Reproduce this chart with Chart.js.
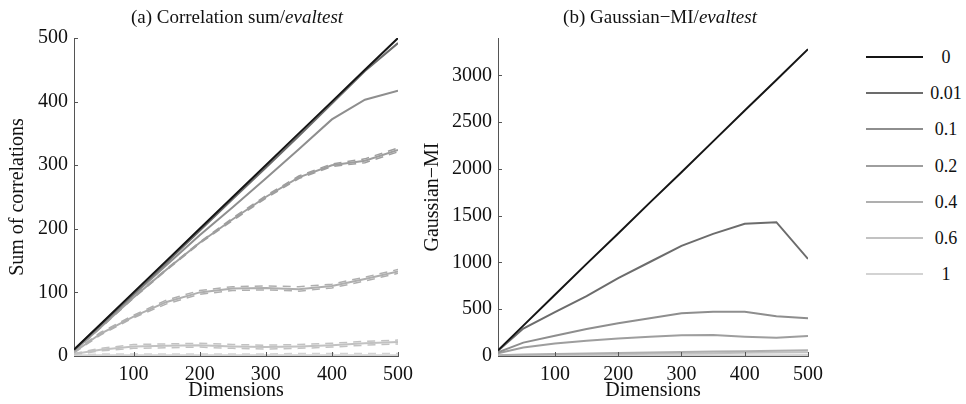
<!DOCTYPE html>
<html>
<head>
<meta charset="utf-8">
<script src="https://cdn.jsdelivr.net/npm/chart.js@4/dist/chart.umd.min.js"></script>
<style>
  html, body { margin: 0; padding: 0; background: #fff; }
  #wrap { position: relative; width: 966px; height: 404px; font-family: 'Liberation Serif', serif; color: #111; }
  #left-box { position: absolute; left: 0; top: 0; width: 420px; height: 404px; }
  #right-box { position: absolute; left: 420px; top: 0; width: 410px; height: 404px; }
  .plot-title { position: absolute; top: 6px; font-size: 19px; white-space: nowrap; transform: translateX(-50%); }
  .plot-title i { font-style: italic; }
  #legend { position: absolute; left: 866px; top: 0; }
  .legend-row { position: absolute; left: 0; width: 110px; height: 20px; }
  .legend-line { position: absolute; left: 0; top: 9px; width: 57px; height: 2px; }
  .legend-label { position: absolute; left: 62px; width: 36px; top: 0; text-align: center; font-size: 18px; line-height: 20px; }
</style>
</head>
<body>
<div id="wrap">
  <div id="left-box"><canvas id="chart-corr"></canvas></div>
  <div id="right-box"><canvas id="chart-mi"></canvas></div>
  <div class="plot-title" style="left:237px">(a) Correlation sum/<i>evaltest</i></div>
  <div class="plot-title" style="left:660px">(b) Gaussian&minus;MI/<i>evaltest</i></div>
  <div id="legend"></div>
</div>
<script>
// --- data -------------------------------------------------------------
const dims = [10, 50, 100, 150, 200, 250, 300, 350, 400, 450, 500];
const noiseLevels = ['0', '0.01', '0.1', '0.2', '0.4', '0.6', '1'];
const lineColors = ['#151515', '#6c6c6c', '#8e8e8e', '#9e9e9e', '#afafaf', '#c2c2c2', '#d3d3d3'];

const xTicks = [100, 200, 300, 400, 500];
const corrTicks = [0, 100, 200, 300, 400, 500];
const miTicks = [0, 500, 1000, 1500, 2000, 2500, 3000];

// (a) sum of correlations, mean per noise level
const corr0   = [10, 50, 100, 150, 200, 250, 300, 350, 400, 450, 500];
const corr001 = [10, 49, 98, 147, 197, 247, 296, 346, 397, 448, 492];
const corr01  = [9, 47, 96, 143, 190, 234, 279, 325, 372, 403, 417];
const corr02  = [8, 45, 92, 136, 178, 215, 250, 281, 300, 307, 324];
const corr04  = [6, 35, 62, 85, 100, 106, 107, 105, 110, 121, 133];
const corr06  = [3, 10, 15, 16, 17, 15, 14, 15, 17, 20, 22];
const corr1   = [1, 1, 1, 1, 1, 1, 1, 1, 1, 1, 1];

// (a) spread (upper / lower dashed) for the noisier levels
const corr02Hi = [9, 46, 93, 137, 179, 217, 252, 283, 302, 310, 327];
const corr02Lo = [7, 44, 91, 135, 177, 213, 248, 279, 298, 304, 321];
const corr04Hi = [7, 37, 64, 88, 103, 109, 110, 109, 113, 124, 136];
const corr04Lo = [5, 33, 60, 82, 97, 103, 104, 102, 107, 118, 130];
const corr06Hi = [4, 12, 18, 19, 20, 18, 17, 18, 20, 23, 25];
const corr06Lo = [2, 8, 12, 13, 14, 12, 11, 12, 14, 17, 19];
const corr1Hi  = [2, 3, 3, 3, 3, 3, 3, 4, 4, 4, 4];

// (b) Gaussian-MI per noise level
const mi0   = [60, 325, 655, 985, 1310, 1640, 1965, 2295, 2625, 2950, 3280];
const mi001 = [55, 293, 470, 640, 833, 1005, 1178, 1306, 1413, 1431, 1038];
const mi01  = [40, 143, 217, 289, 349, 403, 457, 474, 474, 425, 403];
const mi02  = [30, 90, 133, 164, 188, 207, 222, 225, 207, 196, 214];
const mi04  = [8, 15, 22, 28, 33, 38, 42, 47, 52, 57, 62];
const mi06  = [5, 9, 13, 17, 20, 24, 27, 30, 34, 37, 40];
const mi1   = [2, 3, 4, 5, 6, 6, 7, 8, 8, 9, 10];

const corrSeries = [corr0, corr001, corr01, corr02, corr04, corr06, corr1];
const corrBands = [
  { level: 3, data: corr02Hi }, { level: 3, data: corr02Lo },
  { level: 4, data: corr04Hi }, { level: 4, data: corr04Lo },
  { level: 5, data: corr06Hi }, { level: 5, data: corr06Lo },
  { level: 6, data: corr1Hi }
];
const miSeries = [mi0, mi001, mi01, mi02, mi04, mi06, mi1];

// --- helpers ----------------------------------------------------------
const AXIS_COLOR = '#555';
const serif = "'Liberation Serif', 'Times New Roman', serif";

function toPoints(values) {
  return dims.map((d, i) => ({ x: d, y: values[i] }));
}

function buildDatasets(series, bands) {
  const sets = series.map((vals, i) => ({
    label: noiseLevels[i],
    data: toPoints(vals),
    borderColor: lineColors[i],
    borderWidth: 2,
    pointRadius: 0,
    fill: false
  }));
  (bands || []).forEach(b => {
    sets.push({
      label: noiseLevels[b.level] + ' band',
      data: toPoints(b.data),
      borderColor: lineColors[b.level],
      borderWidth: 1.5,
      borderDash: [8, 6],
      pointRadius: 0,
      fill: false
    });
  });
  return sets;
}

// MATLAB style tick marks pointing into the plot
const innerTicks = {
  id: 'innerTicks',
  afterDatasetsDraw(chart) {
    const { ctx, chartArea, scales } = chart;
    ctx.save();
    ctx.strokeStyle = AXIS_COLOR;
    ctx.lineWidth = 1;
    scales.x.ticks.forEach(t => {
      const px = Math.round(scales.x.getPixelForValue(t.value)) + 0.5;
      ctx.beginPath();
      ctx.moveTo(px, chartArea.bottom);
      ctx.lineTo(px, chartArea.bottom - 4);
      ctx.stroke();
    });
    scales.y.ticks.forEach(t => {
      const py = Math.round(scales.y.getPixelForValue(t.value)) + 0.5;
      ctx.beginPath();
      ctx.moveTo(chartArea.left, py);
      ctx.lineTo(chartArea.left + 4, py);
      ctx.stroke();
    });
    ctx.restore();
  }
};

function makeChart(canvasId, datasets, yMax, yTicks, yTitle, yWidth, rightPad, yTitlePad) {
  return new Chart(document.getElementById(canvasId), {
    type: 'line',
    data: { datasets },
    plugins: [innerTicks],
    options: {
      responsive: true,
      maintainAspectRatio: false,
      animation: false,
      layout: { padding: { top: 38, right: rightPad, left: 0, bottom: 0 } },
      plugins: { legend: { display: false }, tooltip: { enabled: false } },
      scales: {
        x: {
          type: 'linear',
          min: 10,
          max: 500,
          afterBuildTicks: s => { s.ticks = xTicks.map(v => ({ value: v })); },
          afterFit: s => { s.height = 48; },
          grid: { drawOnChartArea: false, drawTicks: false, color: 'rgba(0,0,0,0)' },
          border: { color: AXIS_COLOR, width: 1 },
          ticks: {
            color: '#111', padding: 7, maxRotation: 0,
            font: { family: serif, size: 20 },
            callback: v => String(v)
          },
          title: {
            display: true, text: 'Dimensions', color: '#111',
            padding: { top: 0, bottom: 2 },
            font: { family: serif, size: 20, lineHeight: 1.1 }
          }
        },
        y: {
          type: 'linear',
          min: 0,
          max: yMax,
          afterBuildTicks: s => { s.ticks = yTicks.map(v => ({ value: v })); },
          afterFit: s => { s.width = yWidth; },
          grid: { drawOnChartArea: false, drawTicks: false, color: 'rgba(0,0,0,0)' },
          border: { color: AXIS_COLOR, width: 1 },
          ticks: {
            color: '#111', padding: 6,
            font: { family: serif, size: 20 },
            callback: v => String(v)
          },
          title: {
            display: true, text: yTitle, color: '#111',
            padding: { top: yTitlePad, bottom: 0 },
            font: { family: serif, size: 20, lineHeight: 1.1 }
          }
        }
      }
    }
  });
}

// --- charts -----------------------------------------------------------
makeChart('chart-corr', buildDatasets(corrSeries, corrBands), 500, corrTicks,
  'Sum of correlations', 74, 20, 7);
makeChart('chart-mi', buildDatasets(miSeries), 3400, miTicks,
  'Gaussian\u2212MI', 78, 7, 2);

// --- shared legend ----------------------------------------------------
const legend = document.getElementById('legend');
noiseLevels.forEach((lvl, i) => {
  const row = document.createElement('div');
  row.className = 'legend-row';
  row.style.top = (47 + i * 36.2) + 'px';
  row.innerHTML = '<div class="legend-line" style="background:' + lineColors[i] + '"></div>' +
    '<div class="legend-label">' + lvl + '</div>';
  legend.appendChild(row);
});
</script>
</body>
</html>
